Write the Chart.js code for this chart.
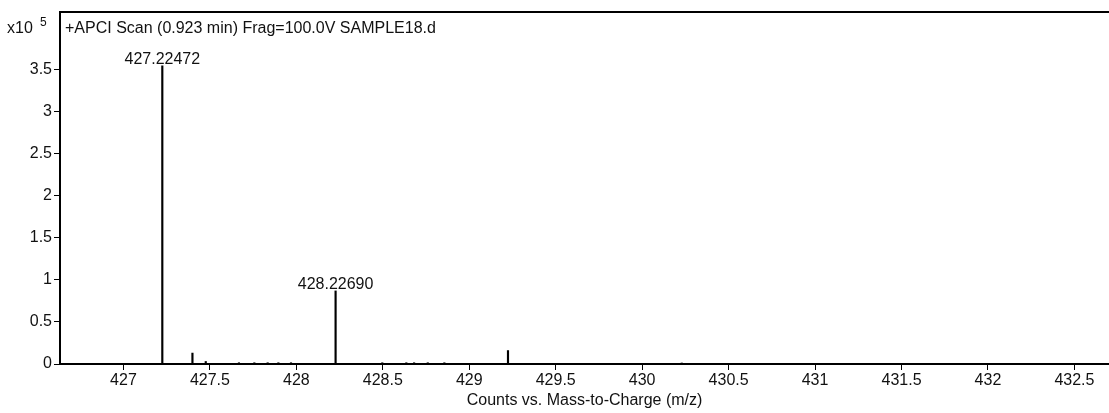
<!DOCTYPE html>
<html lang="en">

<head>
  <meta charset="UTF-8">
  <title>APCI Scan SAMPLE18</title>

  <script src="https://cdn.jsdelivr.net/npm/chart.js@4/dist/chart.umd.min.js"></script>

  <style>
    body {
      margin: 0;
      background-color: #fff;
    }

    .chart-container {
      position: relative;
      width: 1109px;
      height: 413px;
    }
  </style>
</head>

<body>

  <div class="chart-container">
    <canvas id="chart-spectrum"></canvas>
  </div>

  <script>
    // peak list: m/z and counts (x10^5)
    const mzValues = [427.22472, 427.399, 427.476, 427.668, 427.757, 427.834, 427.896, 427.969,
      428.22690, 428.497, 428.636, 428.681, 428.760, 428.856, 429.224, 430.229];
    const counts = [3.55, 0.13, 0.03, 0.015, 0.015, 0.015, 0.015, 0.015,
      0.87, 0.015, 0.015, 0.015, 0.015, 0.015, 0.16, 0.012];

    // peaks that get their m/z written above them
    const labeledPeaks = [427.22472, 428.22690];

    const xTicks = [427, 427.5, 428, 428.5, 429, 429.5, 430, 430.5, 431, 431.5, 432, 432.5];
    const yTicks = [0, 0.5, 1, 1.5, 2, 2.5, 3, 3.5];

    const scanTitle = '+APCI Scan (0.923 min) Frag=100.0V SAMPLE18.d';
    const xTitle = 'Counts vs. Mass-to-Charge (m/z)';

    const FONT = '"Liberation Sans", Arial, sans-serif';

    Chart.defaults.font.family = FONT;
    Chart.defaults.font.size = 16;
    Chart.defaults.color = '#111';

    const annotations = {
      id: 'annotations',
      afterDraw(chart) {
        const { ctx, chartArea } = chart;
        const xs = chart.scales.x;
        const ys = chart.scales.y;

        ctx.save();
        // frame line on top
        ctx.strokeStyle = '#000';
        ctx.lineWidth = 2;
        ctx.beginPath();
        ctx.moveTo(chartArea.left - 1, chartArea.top);
        ctx.lineTo(chart.width, chartArea.top);
        ctx.stroke();

        ctx.fillStyle = '#111';
        ctx.textBaseline = 'alphabetic';

        // exponent of the y axis
        ctx.textAlign = 'left';
        ctx.font = '16px ' + FONT;
        ctx.fillText('x10', 7, 33);
        ctx.font = '12px ' + FONT;
        ctx.fillText('5', 40, 26);

        ctx.font = '16px ' + FONT;
        ctx.fillText(scanTitle, chartArea.left + 5, 33);

        // m/z labels above the main peaks
        ctx.textAlign = 'center';
        labeledPeaks.forEach(mz => {
          const i = mzValues.indexOf(mz);
          const px = xs.getPixelForValue(mz);
          const py = ys.getPixelForValue(counts[i]);
          ctx.fillText(mz.toFixed(5), px, py - 2);
        });
        ctx.restore();
      }
    };

    new Chart(
      document.getElementById('chart-spectrum'),
      {
        type: 'bar',
        data: {
          datasets: [
            {
              data: mzValues.map((mz, i) => ({ x: mz, y: counts[i] })),
              backgroundColor: '#000',
              borderWidth: 0,
              barThickness: 1.5
            }
          ]
        },
        options: {
          responsive: true,
          maintainAspectRatio: false,
          animation: false,
          layout: { padding: { top: 12, left: 0, right: 0, bottom: 0 } },
          plugins: {
            legend: { display: false },
            tooltip: { enabled: false }
          },
          scales: {
            x: {
              type: 'linear',
              offset: false,
              min: 426.633,
              max: 432.70,
              afterFit: s => { s.height = 49; },
              afterBuildTicks: s => { s.ticks = xTicks.map(v => ({ value: v })); },
              grid: {
                offset: false,
                drawOnChartArea: false,
                drawTicks: true,
                tickLength: 6,
                color: '#000'
              },
              border: { display: true, color: '#000', width: 2 },
              ticks: {
                padding: 1,
                maxRotation: 0,
                autoSkip: false,
                callback: v => String(v)
              },
              title: {
                display: true,
                text: xTitle,
                padding: { top: 0, bottom: 3 }
              }
            },
            y: {
              min: 0,
              max: 4.19,
              afterFit: s => { s.width = 60; },
              afterBuildTicks: s => { s.ticks = yTicks.map(v => ({ value: v })); },
              grid: {
                drawOnChartArea: false,
                drawTicks: true,
                tickLength: 6,
                color: '#000'
              },
              border: { display: true, color: '#000', width: 2 },
              ticks: {
                padding: 2,
                callback: v => String(v)
              }
            }
          }
        },
        plugins: [annotations]
      }
    );
  </script>
</body>

</html>
